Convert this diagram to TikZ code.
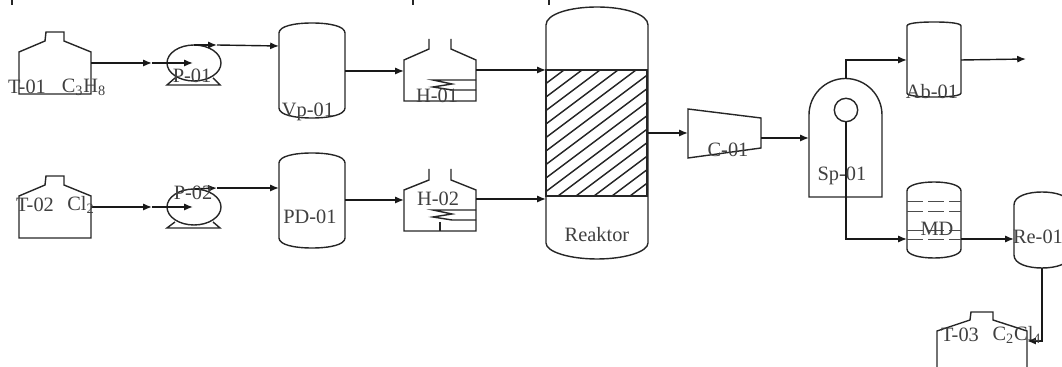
\documentclass[tikz,border=0pt]{standalone}
\usepackage{fontspec}
\setmainfont{Liberation Serif}
\usetikzlibrary{arrows.meta}
\tikzset{
  unit/.style={black!85, line width=0.8pt},
  tray/.style={black!70, line width=0.5pt, dash pattern=on 9pt off 3pt},
  flow/.style={black!90, line width=0.8pt, -{Latex[length=5pt,width=4pt]}},
  tag/.style={inner sep=0pt, text=black!75, font=\fontsize{11.6}{12}\selectfont},
}
\begin{document}
\begin{tikzpicture}[x=0.02cm,y=-0.02cm]
    \useasboundingbox (0,0) rectangle (1062,367);
    \clip (0,0) rectangle (1062,367);
    % cut off text line
    \draw [unit] (12,0) -- (12,5);
    \draw [unit] (413,0) -- (413,5);
    \draw [unit] (549,0) -- (549,5);
    % tanks
    \draw [unit] (19,52) -- (45,41) -- (46,32) -- (64,32) -- (64,41) -- (91,52) -- (91,94) -- (19,94) -- cycle;
    \draw [unit] (19,196) -- (45,185) -- (46,176) -- (64,176) -- (64,185) -- (91,196) -- (91,238) -- (19,238) -- cycle;
    \draw [unit] (937,367) -- (937,331) -- (970,320) -- (971,312) -- (993,312) -- (993,320) -- (1027,331) -- (1027,367);
    % pumps
    \draw [unit] (194,63) ellipse (27 and 18);
    \draw [unit] (175,78) -- (167,85) -- (220,85) -- (213,78);
    \draw [unit] (194,207) ellipse (27 and 18);
    \draw [unit] (175,222) -- (167,228) -- (220,228) -- (213,222);
    % vessels
    \draw [unit] (279,33) .. controls (279,26) and (295,23) .. (312,23) .. controls (329,23) and (345,26) .. (345,33) -- (345,108) .. controls (345,115) and (329,118) .. (312,118) .. controls (295,118) and (279,115) .. (279,108) -- cycle;
    \draw [unit] (279,163) .. controls (279,156) and (295,153) .. (312,153) .. controls (329,153) and (345,156) .. (345,163) -- (345,238) .. controls (345,245) and (329,248) .. (312,248) .. controls (295,248) and (279,245) .. (279,238) -- cycle;
    \draw [unit] (907,26) .. controls (907,23) and (920,22) .. (934,22) .. controls (948,22) and (961,23) .. (961,26) -- (961,93) .. controls (961,96) and (948,97) .. (934,97) .. controls (920,97) and (907,96) .. (907,93) -- cycle;
    \draw [unit] (907,191) .. controls (907,185) and (920,182) .. (934,182) .. controls (948,182) and (961,185) .. (961,191) -- (961,249) .. controls (961,255) and (948,258) .. (934,258) .. controls (920,258) and (907,255) .. (907,249) -- cycle;
    \draw [unit] (1014,205) .. controls (1014,196) and (1028,192) .. (1042,192) .. controls (1056,192) and (1070,196) .. (1070,205) -- (1070,255) .. controls (1070,264) and (1056,268) .. (1042,268) .. controls (1028,268) and (1014,264) .. (1014,255) -- cycle;
    % MD trays
    \draw [tray] (907,201) -- (961,201);
    \draw [tray] (907,211) -- (961,211);
    \draw [tray] (907,230) -- (961,230);
    \draw [tray] (907,239) -- (961,239);
    % heaters
    \draw [unit] (429,39) -- (429,49) -- (404,60) -- (404,101) -- (476,101) -- (476,60) -- (451,49) -- (451,39);
    \draw [unit] (476,80) -- (433,80) -- (452,84) -- (433,87) -- (452,90) -- (476,90);
    \draw [unit] (429,169) -- (429,180) -- (404,190) -- (404,231) -- (476,231) -- (476,190) -- (451,180) -- (451,169);
    \draw [unit] (476,210) -- (433,210) -- (452,214) -- (433,217) -- (452,220) -- (476,220);
    \draw [unit] (440,222) -- (440,231);
    % reactor
    \draw [unit] (546,25) .. controls (546,14) and (570,7) .. (597,7) .. controls (624,7) and (648,14) .. (648,25) -- (648,243) .. controls (648,252) and (624,259) .. (597,259) .. controls (570,259) and (546,252) .. (546,243) -- cycle;
    \begin{scope}
      \clip (546,70) rectangle (647,196);
      \foreach \i in {0,...,17}
        \draw [unit] (530,82+13.5*\i) -- (670,-23+13.5*\i);
    \end{scope}
    \draw [unit] (546,70) rectangle (647,196);
    % compressor and separator
    \draw [unit] (688,109) -- (761,118) -- (761,148) -- (688,158) -- cycle;
    \draw [unit] (809,197) -- (809,115) arc (180:360:36.5) -- (882,197) -- cycle;
    \draw [unit] (846,110) circle (11.7);
    % ports
    \coordinate (t1out) at (91,63);
    \coordinate (t1mid) at (152,63);
    \coordinate (p1in) at (193,63);
    \coordinate (p1top) at (194,45);
    \coordinate (p1mid) at (217,45);
    \coordinate (vpin) at (279,46);
    \coordinate (vpout) at (345,71);
    \coordinate (h1in) at (404,71);
    \coordinate (h1out) at (476,70);
    \coordinate (r1in) at (546,70);
    \coordinate (t2out) at (91,207);
    \coordinate (t2mid) at (152,207);
    \coordinate (p2in) at (193,207);
    \coordinate (p2top) at (194,189);
    \coordinate (p2mid) at (217,188);
    \coordinate (pdin) at (279,188);
    \coordinate (pdout) at (345,200);
    \coordinate (h2in) at (404,200);
    \coordinate (h2out) at (476,199);
    \coordinate (r2in) at (546,199);
    \coordinate (rout) at (648,133);
    \coordinate (cin) at (688,133);
    \coordinate (cout) at (761,138);
    \coordinate (spin) at (809,138);
    \coordinate (sptop) at (846,79);
    \coordinate (spbend) at (846,60);
    \coordinate (abin) at (907,60);
    \coordinate (about) at (961,60);
    \coordinate (abend) at (1026,59);
    \coordinate (spcirc) at (846,122);
    \coordinate (spdown) at (846,239);
    \coordinate (mdin) at (907,239);
    \coordinate (mdout) at (961,239);
    \coordinate (rein) at (1014,239);
    \coordinate (reout) at (1042,268);
    \coordinate (rebend) at (1042,341);
    \coordinate (t3in) at (1027,341);
    % streams
    \draw [flow] (t1out) -- (t1mid);
    \draw [flow] (t1mid) -- (p1in);
    \draw [flow] (p1top) -- (p1mid);
    \draw [flow] (p1mid) -- (vpin);
    \draw [flow] (vpout) -- (h1in);
    \draw [flow] (h1out) -- (r1in);
    \draw [flow] (t2out) -- (t2mid);
    \draw [flow] (t2mid) -- (p2in);
    \draw [flow] (p2top) -- (p2mid);
    \draw [flow] (p2mid) -- (pdin);
    \draw [flow] (pdout) -- (h2in);
    \draw [flow] (h2out) -- (r2in);
    \draw [flow] (rout) -- (cin);
    \draw [flow] (cout) -- (spin);
    \draw [flow] (sptop) -- (spbend) -- (abin);
    \draw [flow] (about) -- (abend);
    \draw [flow] (spcirc) -- (spdown) -- (mdin);
    \draw [flow] (mdout) -- (rein);
    \draw [flow] (reout) -- (rebend) -- (t3in);
    % labels
    \node [tag] (t1tag) at (27,87) {T-01};
    \node [tag] (t1comp) at (84,87) {C\textsubscript{3}H\textsubscript{8}};
    \node [tag] (p1tag) at (192,76) {P-01};
    \node [tag] (vptag) at (308,112) {Vp-01};
    \node [tag] (t2tag) at (35,205) {T-02};
    \node [tag] (t2comp) at (81,205) {Cl\textsubscript{2}};
    \node [tag] (p2tag) at (193,193) {P-02};
    \node [tag] (pdtag) at (310,217) {PD-01};
    \node [tag] (h1tag) at (437,96) {H-01};
    \node [tag] (h2tag) at (438,199) {H-02};
    \node [tag] (rtag) at (597,235) {Reaktor};
    \node [tag] (ctag) at (728,150) {C-01};
    \node [tag] (sptag) at (842,176) {Sp-01};
    \node [tag] (abtag) at (932,92) {Ab-01};
    \node [tag] (mdtag) at (937,229) {MD};
    \node [tag] (retag) at (1038,237) {Re-01};
    \node [tag] (t3tag) at (960,335) {T-03};
    \node [tag] (t3comp) at (1017,335) {C\textsubscript{2}Cl\textsubscript{4}};
    \end{tikzpicture}
\end{document}
